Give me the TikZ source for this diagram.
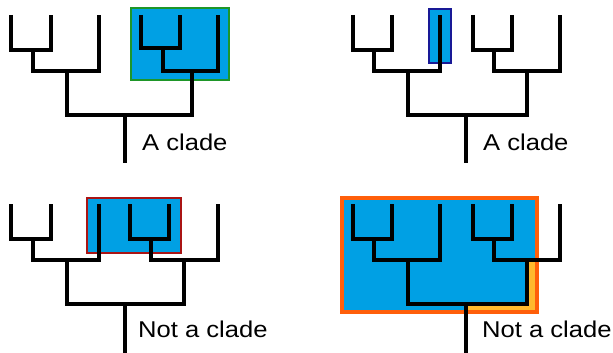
\documentclass[tikz,border=0pt]{standalone}
\usepackage{fontspec}
\setmainfont{Liberation Sans}
\definecolor{azul}{RGB}{0,160,228}
\definecolor{verde}{RGB}{30,150,40}
\definecolor{marino}{RGB}{25,25,150}
\definecolor{rojo}{RGB}{170,20,20}
\definecolor{naranja}{RGB}{255,95,10}
\definecolor{amarillo}{RGB}{255,185,45}
\tikzset{
  rama/.style={line width=6pt, draw=black, line join=miter},
  etiqueta/.style={anchor=base west, inner sep=0pt, xscale=1.12,
    font=\fontsize{32.5}{36}\selectfont}
}
\begin{document}
\begin{tikzpicture}[x=0.05cm, y=-0.05cm]
        \useasboundingbox (0,0) rectangle (613,353);
        % Recuadros de los grupos
        \filldraw[line width=4pt, fill=azul, draw=verde] (131,8) rectangle (229,80);
        \filldraw[line width=3.5pt, fill=azul, draw=marino] (429,9) rectangle (451,63);
        \filldraw[line width=3.5pt, fill=azul, draw=rojo] (87,198) rectangle (181,253);
        \fill[amarillo] (342,198) rectangle (537,312);
        \fill[azul] (342,198) -- (537,198) -- (537,260) -- (527,260) -- (527,304) -- (466,304) -- (466,312) -- (342,312) -- cycle;
        \draw[line width=4.5pt, draw=naranja] (342,198) rectangle (537,312);
        % Arbol arriba a la izquierda
        \draw[rama] (11,15) |- (51,50) -- (51,15);
        \draw[rama] (33,50) |- (99,71) -- (99,15);
        \draw[rama] (141,15) |- (180,48) -- (180,15);
        \draw[rama] (163,48) |- (218,71) -- (218,15);
        \draw[rama] (67,71) |- (192,115) -- (192,71);
        \draw[rama] (125,115) -- (125,163);
        \node[etiqueta] (cladoA) at (142,151) {A clade};
        % Arbol arriba a la derecha
        \draw[rama] (353,15) |- (392,50) -- (392,15);
        \draw[rama] (374,50) |- (440,71) -- (440,15);
        \draw[rama] (473,15) |- (512,50) -- (512,15);
        \draw[rama] (494,50) |- (560,71) -- (560,15);
        \draw[rama] (408,71) |- (527,115) -- (527,71);
        \draw[rama] (466,115) -- (466,163);
        \node[etiqueta] (cladoB) at (483,151) {A clade};
        % Arbol abajo a la izquierda
        \draw[rama] (11,204) |- (51,239) -- (51,204);
        \draw[rama] (33,239) |- (99,260) -- (99,204);
        \draw[rama] (130,204) |- (169,239) -- (169,204);
        \draw[rama] (151,239) |- (218,260) -- (218,204);
        \draw[rama] (67,260) |- (184,304) -- (184,260);
        \draw[rama] (125,304) -- (125,353);
        \node[etiqueta] (noCladoA) at (138,337) {Not a clade};
        % Arbol abajo a la derecha
        \draw[rama] (353,204) |- (392,239) -- (392,204);
        \draw[rama] (374,239) |- (440,260) -- (440,204);
        \draw[rama] (473,204) |- (512,239) -- (512,204);
        \draw[rama] (494,239) |- (560,260) -- (560,204);
        \draw[rama] (408,260) |- (527,304) -- (527,260);
        \draw[rama] (466,304) -- (466,353);
        \node[etiqueta] (noCladoB) at (482,337) {Not a clade};
    \end{tikzpicture}
\end{document}
